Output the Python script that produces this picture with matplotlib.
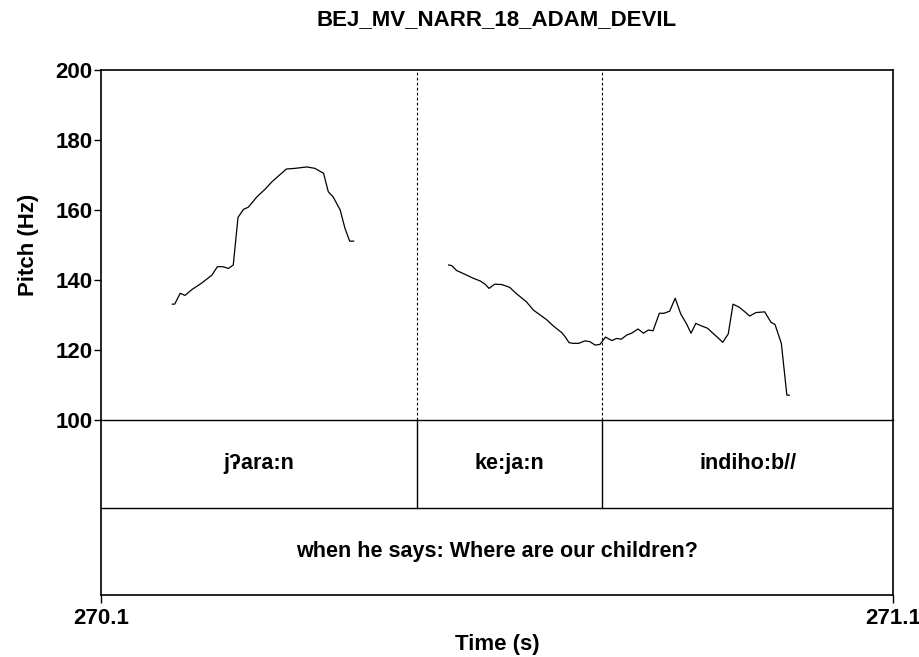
import numpy as np
import matplotlib
matplotlib.use("Agg")
import matplotlib.pyplot as plt

plt.rcParams['font.family'] = ['Liberation Sans', 'DejaVu Sans']

title = "BEJ_MV_NARR_18_ADAM_DEVIL"

# pitch contour 1 (time s, Hz)
t1 = [270.190, 270.193, 270.200, 270.206, 270.215, 270.227, 270.240, 270.247,
      270.254, 270.261, 270.267, 270.273, 270.280, 270.286, 270.297, 270.307,
      270.316, 270.334, 270.345, 270.360, 270.370, 270.381, 270.387, 270.393,
      270.402, 270.408, 270.414, 270.419]
f1 = [133.1, 133.1, 136.2, 135.6, 137.3, 139.1, 141.4, 143.8,
      143.8, 143.3, 144.3, 157.9, 160.2, 160.8, 163.8, 165.9,
      168.1, 171.7, 171.9, 172.3, 171.9, 170.5, 165.2, 163.8,
      160.0, 154.8, 151.1, 151.1]

# pitch contour 2
t2 = [270.539, 270.543, 270.549, 270.555, 270.570, 270.579, 270.585, 270.590,
      270.597, 270.606, 270.616, 270.624, 270.637, 270.646, 270.663, 270.671,
      270.682, 270.686, 270.691, 270.696, 270.703, 270.711, 270.717, 270.724,
      270.730, 270.737, 270.745, 270.751, 270.757, 270.764, 270.770, 270.778,
      270.785, 270.791, 270.797, 270.805, 270.811, 270.818, 270.825, 270.832,
      270.839, 270.845, 270.851, 270.858, 270.866, 270.872, 270.879, 270.885,
      270.892, 270.898, 270.906, 270.913, 270.919, 270.927, 270.938, 270.946,
      270.951, 270.959, 270.966, 270.969]
f2 = [144.3, 144.1, 142.7, 142.1, 140.5, 139.7, 138.8, 137.6,
      138.8, 138.7, 137.9, 136.2, 133.8, 131.4, 128.6, 126.9,
      124.9, 123.8, 122.1, 121.9, 121.9, 122.6, 122.4, 121.4,
      121.6, 123.7, 122.7, 123.3, 123.1, 124.3, 124.8, 126.0,
      124.8, 125.7, 125.5, 130.5, 130.5, 131.1, 134.8, 130.3,
      127.6, 124.8, 127.6, 126.9, 126.2, 124.9, 123.5, 122.2,
      124.6, 133.1, 132.2, 130.9, 129.7, 130.7, 130.9, 127.9,
      127.3, 121.9, 107.1, 107.1]

# tier 1 intervals
tier1_bounds = [270.1, 270.499, 270.733, 271.1]
tier1_labels = ["jʔara:n", "ke:ja:n", "indiho:b//"]
# tier 2
tier2_bounds = [270.1, 271.1]
tier2_labels = ["when he says: Where are our children?"]

xmin, xmax = 270.1, 271.1
ymin, ymax = 100, 200
yticks = [100, 120, 140, 160, 180, 200]
xticks = [270.1, 271.1]

W, H = 920, 657
fig = plt.figure(figsize=(W / 100, H / 100), dpi=100)
L, R, T, M, B = 101, 893, 70, 420, 595

axt = fig.add_axes([L / W, 1 - B / H, (R - L) / W, (B - M) / H])
ax = fig.add_axes([L / W, 1 - M / H, (R - L) / W, (M - T) / H])
ax.patch.set_visible(False)

lw_frame = 1.2
fs = 16

ax.plot(t1, f1, color='black', lw=0.9)
ax.plot(t2, f2, color='black', lw=0.9)
for b in tier1_bounds[1:-1]:
    ax.axvline(b, color='black', lw=0.8, ls=(0, (2.5, 2)))
ax.set_xlim(xmin, xmax)
ax.set_ylim(ymin, ymax)
ax.set_yticks(yticks)
ax.set_yticklabels([str(v) for v in yticks], fontsize=fs, fontweight='bold')
ax.set_xticks([])
ax.tick_params(axis='y', length=5, width=1, pad=1)
for s in ax.spines.values():
    s.set_linewidth(lw_frame)
ax.spines['bottom'].set_linewidth(1.0)
ax.set_ylabel("Pitch (Hz)", fontsize=fs, fontweight='bold', labelpad=12)

# tiers
axt.set_xlim(xmin, xmax)
axt.set_ylim(0, 2)
axt.axhline(1, color='black', lw=1.0)
for b in tier1_bounds[1:-1]:
    axt.plot([b, b], [1, 2], color='black', lw=1.0)
for i, lab in enumerate(tier1_labels):
    xc = (tier1_bounds[i] + tier1_bounds[i + 1]) / 2
    axt.text(xc, 1.5, lab, ha='center', va='center', fontsize=15.5, fontweight='bold')
for i, lab in enumerate(tier2_labels):
    xc = (tier2_bounds[i] + tier2_bounds[i + 1]) / 2
    axt.text(xc, 0.5, lab, ha='center', va='center', fontsize=15.5, fontweight='bold')
axt.set_yticks([])
axt.set_xticks(xticks)
axt.set_xticklabels([f"{v:.1f}" for v in xticks], fontsize=fs, fontweight='bold')
axt.tick_params(axis='x', length=6, width=1, pad=3)
for s in axt.spines.values():
    s.set_linewidth(lw_frame)
axt.spines['top'].set_visible(False)
axt.set_xlabel("Time (s)", fontsize=fs, fontweight='bold', labelpad=4)

fig.text((L + R) / 2 / W, 1 - 20 / H, title, ha='center', va='center',
         fontsize=16, fontweight='bold')

fig.savefig("out.png", dpi=100, facecolor='white')
